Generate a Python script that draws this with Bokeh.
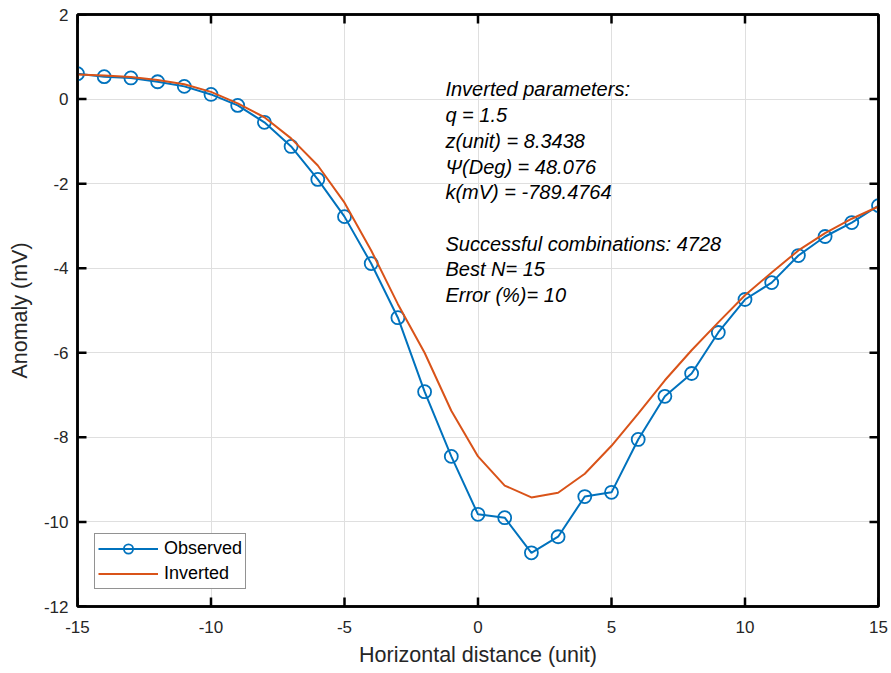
from bokeh.plotting import figure
from bokeh.models import (LinearAxis, Range1d, Label, Legend, LegendItem, FixedTicker,
                          CustomJSTickFormatter)
from bokeh.embed import file_html
from bokeh.resources import INLINE

x_vals = list(range(-15, 16))
observed = [0.60, 0.53, 0.50, 0.41, 0.30, 0.11, -0.15, -0.55, -1.12, -1.90, -2.78, -3.89,
            -5.17, -6.92, -8.45, -9.82, -9.90, -10.73, -10.35, -9.40, -9.30, -8.05,
            -7.03, -6.49, -5.52, -4.74, -4.34, -3.70, -3.25, -2.92, -2.52]
inverted = [0.58, 0.56, 0.52, 0.45, 0.35, 0.17, -0.10, -0.43, -0.93, -1.57, -2.45, -3.58,
            -4.85, -6.00, -7.37, -8.45, -9.14, -9.42, -9.31, -8.86, -8.20, -7.44,
            -6.65, -5.94, -5.28, -4.64, -4.10, -3.58, -3.17, -2.83, -2.54]
x_ticks = [-15, -10, -5, 0, 5, 10, 15]
y_ticks = [-12, -10, -8, -6, -4, -2, 0, 2]
annotation = ["Inverted parameters:", "q = 1.5", "z(unit) = 8.3438", "\u03a8(Deg) = 48.076",
              "k(mV) = -789.4764", "", "Successful combinations: 4728", "Best N= 15", " Error (%)= 10"]

BLUE = "#0072BD"
ORANGE = "#D95319"
DARK = "#262626"
FONT = "Liberation Sans"

W, H = 891, 673
BL, BR, BT, BB = 77, 13, 14, 67
xmin, xmax = min(x_ticks), max(x_ticks)
ymin, ymax = min(y_ticks), max(y_ticks)
TICK_PX = 9
tx = TICK_PX * (xmax - xmin) / (W - BL - BR)
ty = TICK_PX * (ymax - ymin) / (H - BT - BB)

p = figure(width=W, height=H, output_backend="svg", toolbar_location=None,
           x_range=Range1d(xmin, xmax), y_range=Range1d(ymin, ymax),
           min_border_left=BL, min_border_right=BR, min_border_top=BT, min_border_bottom=BB)
p.outline_line_color = "black"
p.outline_line_width = 2.5
p.background_fill_color = "white"

plain = CustomJSTickFormatter(code="return tick.toString();")
blank = CustomJSTickFormatter(code="return '';")

def style_axis(ax, labels=True):
    ax.axis_line_color = "black"
    ax.axis_line_width = 2.5
    ax.major_tick_in = 0
    ax.major_tick_out = 0
    ax.minor_tick_line_color = None
    ax.major_tick_line_color = None
    ax.major_label_text_font = FONT
    ax.major_label_text_font_size = "17px"
    ax.major_label_text_color = DARK
    ax.axis_label_text_font = FONT
    ax.axis_label_text_font_size = "21.5px"
    ax.axis_label_text_font_style = "normal"
    ax.axis_label_text_color = DARK
    ax.formatter = plain if labels else blank

p.xaxis.ticker = FixedTicker(ticks=x_ticks)
p.yaxis.ticker = FixedTicker(ticks=y_ticks)
p.xaxis.axis_label = "Horizontal distance (unit)"
p.yaxis.axis_label = "Anomaly (mV)"
style_axis(p.xaxis[0])
style_axis(p.yaxis[0])
p.xaxis.major_label_standoff = 14
p.yaxis.major_label_standoff = 9
p.xaxis.axis_label_standoff = 7
p.yaxis.axis_label_standoff = 9

ra = LinearAxis(ticker=FixedTicker(ticks=y_ticks))
style_axis(ra, labels=False)
p.add_layout(ra, "right")
ta = LinearAxis(ticker=FixedTicker(ticks=x_ticks))
style_axis(ta, labels=False)
p.add_layout(ta, "above")

p.xgrid.ticker = FixedTicker(ticks=x_ticks)
p.ygrid.ticker = FixedTicker(ticks=y_ticks)
p.grid.grid_line_color = "#dfdfdf"
p.grid.grid_line_width = 1

# inward tick marks on all four sides
n_y = len(y_ticks)
n_x = len(x_ticks)
p.segment(x0=[xmin] * n_y + [xmax] * n_y,
          y0=y_ticks + y_ticks,
          x1=[xmin + tx] * n_y + [xmax - tx] * n_y,
          y1=y_ticks + y_ticks,
          line_color="black", line_width=2.5)
p.segment(x0=x_ticks + x_ticks,
          y0=[ymin] * n_x + [ymax] * n_x,
          x1=x_ticks + x_ticks,
          y1=[ymin + ty] * n_x + [ymax - ty] * n_x,
          line_color="black", line_width=2.5)

l1 = p.line(x_vals, observed, line_color=BLUE, line_width=2)
s1 = p.scatter(x_vals, observed, marker="circle", size=13, line_color=BLUE, line_width=1.8,
               fill_alpha=0)
l2 = p.line(x_vals, inverted, line_color=ORANGE, line_width=2)

legend = Legend(items=[LegendItem(label="Observed", renderers=[l1, s1]),
                       LegendItem(label="Inverted", renderers=[l2])],
                location="bottom_left")
legend.label_text_font = FONT
legend.label_text_font_size = "18px"
legend.label_text_color = "black"
legend.border_line_color = DARK
legend.border_line_width = 1
legend.margin = 17
legend.padding = 3
legend.spacing = 2
legend.glyph_width = 60
legend.label_height = 23
legend.glyph_height = 23
legend.label_standoff = 6
p.add_layout(legend)

y0 = 0.227
dy = 0.608
for i, t in enumerate(annotation):
    if not t:
        continue
    p.add_layout(Label(x=-1.22, y=y0 - i * dy, text=t, text_font=FONT, text_font_size="20px",
                       text_font_style="italic", text_color="black", text_baseline="middle"))

open("out.html", "w").write(file_html(p, INLINE))
